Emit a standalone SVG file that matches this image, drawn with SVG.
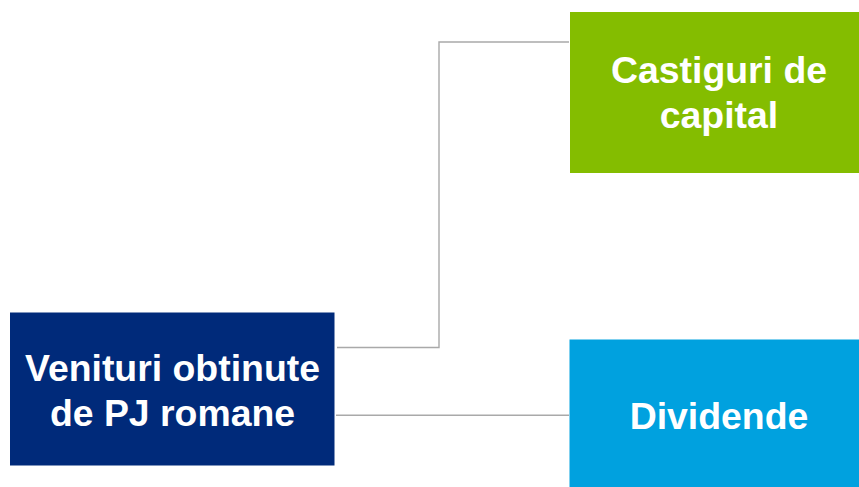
<svg xmlns="http://www.w3.org/2000/svg" width="859" height="487" viewBox="0 0 859 487">
<style>
.t{font-family:"Liberation Sans",Arial,sans-serif;font-weight:bold;font-size:37.4px;fill:#fff;text-anchor:middle}
.c{fill:none;stroke:#A9A9A9;stroke-width:1.4}
</style>
<rect width="859" height="487" fill="#fff"/>
<g id="connectors">
<polyline class="c" points="337,347.5 439,347.5 439,42 569,42"/>
<line class="c" x1="336" y1="415.3" x2="569" y2="415.3"/>
</g>
<g id="node-venituri">
<rect x="10" y="312.5" width="324.5" height="153" fill="#002A7A"/>
<text class="t" x="172.5" y="381">Venituri obtinute</text>
<text class="t" x="172.5" y="425.7">de PJ romane</text>
</g>
<g id="node-castiguri">
<rect x="570" y="12" width="300" height="161" fill="#84BD00"/>
<text class="t" x="719" y="83.3">Castiguri de</text>
<text class="t" x="719" y="128.3">capital</text>
</g>
<g id="node-dividende">
<rect x="569.5" y="339.5" width="300" height="160" fill="#00A1DF"/>
<text class="t" x="719" y="429.3">Dividende</text>
</g>
</svg>
